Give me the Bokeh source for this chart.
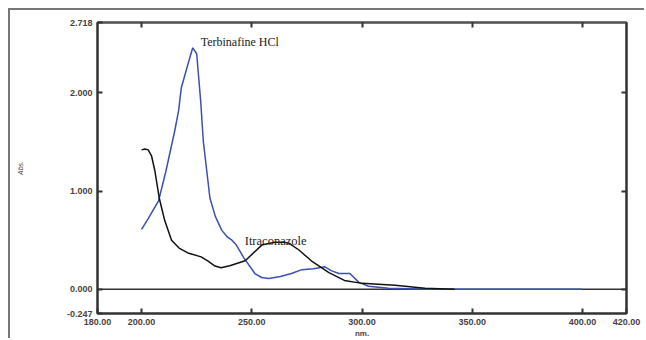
from bokeh.plotting import figure
from bokeh.models import Range1d, FixedTicker, LinearAxis, NumeralTickFormatter, Span, Label
from bokeh.embed import file_html
from bokeh.resources import INLINE

# Terbinafine HCl spectrum (wavelength nm, absorbance)
terb_wl = [200, 203, 207.7, 211, 215, 216.8, 218, 221, 223.2, 225, 226.8, 228, 231, 233.5, 236.4, 239,
           241, 243, 246.4, 251.4, 254.5, 257.7, 263, 268, 272.7, 278, 283, 286, 289.5, 294.5,
           298.6, 303, 312, 330, 360, 400]
terb_abs = [0.61, 0.72, 0.90, 1.20, 1.61, 1.82, 2.05, 2.29, 2.46, 2.40, 1.92, 1.51, 0.93, 0.74, 0.60, 0.53,
            0.50, 0.45, 0.32, 0.16, 0.12, 0.11, 0.13, 0.16, 0.20, 0.21, 0.23, 0.19, 0.16, 0.16,
            0.07, 0.03, 0.01, 0.0, 0.0, 0.0]

# Itraconazole spectrum
itra_wl = [200, 201.5, 203, 204.5, 206, 208, 210.5, 213.6, 217, 221, 227, 230, 233, 236, 240, 247,
           254.5, 260.5, 264.5, 266.8, 271.4, 277, 285, 292, 300, 315, 328.6, 342]
itra_abs = [1.42, 1.43, 1.42, 1.36, 1.21, 0.93, 0.70, 0.50, 0.42, 0.37, 0.33, 0.29, 0.24, 0.22, 0.24, 0.29,
            0.45, 0.48, 0.48, 0.47, 0.40, 0.29, 0.17, 0.09, 0.06, 0.04, 0.01, 0.0]

x_ticks = [180, 200, 250, 300, 350, 400, 420]
y_ticks = [-0.247, 0.0, 1.0, 2.0, 2.718]
top_ticks = [200, 250, 300, 350, 400]
right_ticks = [0.0, 1.0, 2.0]

p = figure(width=636, height=330, output_backend="svg", toolbar_location=None,
           x_range=Range1d(180, 420), y_range=Range1d(-0.247, 2.718),
           min_border_left=87, min_border_right=20, min_border_top=12, min_border_bottom=27)
p.styles = {"border-top": "2px solid #777", "border-left": "2px solid #777",
            "margin-left": "8px", "margin-top": "8px"}
p.xgrid.visible = False
p.ygrid.visible = False
p.background_fill_color = "white"
p.border_fill_color = "white"
p.outline_line_color = "#333"
p.outline_line_width = 2

label_color = "#4a3f3f"
tick_font = "Liberation Sans"

xa = p.xaxis[0]
xa.ticker = FixedTicker(ticks=x_ticks)
xa.formatter = NumeralTickFormatter(format="0.00")
xa.major_tick_in = 5
xa.major_tick_out = 0
xa.minor_tick_line_color = None
xa.axis_line_color = "#333"
xa.axis_line_width = 2
xa.major_tick_line_width = 2
xa.major_tick_line_color = "#333"
xa.major_label_text_font = tick_font
xa.major_label_text_font_size = "9px"
xa.major_label_text_font_style = "bold"
xa.major_label_text_color = label_color
xa.major_label_standoff = 5
xa.axis_label = "nm."
xa.axis_label_text_font = tick_font
xa.axis_label_text_font_size = "8px"
xa.axis_label_text_font_style = "bold"
xa.axis_label_text_color = label_color
xa.axis_label_standoff = 1

ya = p.yaxis[0]
ya.ticker = FixedTicker(ticks=y_ticks)
ya.formatter = NumeralTickFormatter(format="0.000")
ya.major_tick_in = 5
ya.major_tick_out = 0
ya.minor_tick_line_color = None
ya.axis_line_color = "#333"
ya.axis_line_width = 2
ya.major_tick_line_width = 2
ya.major_tick_line_color = "#333"
ya.major_label_text_font = tick_font
ya.major_label_text_font_size = "9px"
ya.major_label_text_font_style = "bold"
ya.major_label_text_color = label_color
ya.major_label_standoff = 5
ya.axis_label = "Abs."
ya.axis_label_text_font = tick_font
ya.axis_label_text_font_size = "7px"
ya.axis_label_text_font_style = "italic"
ya.axis_label_text_color = label_color
ya.axis_label_standoff = 40

top = LinearAxis(ticker=FixedTicker(ticks=top_ticks),
                 major_label_text_color=None, major_label_text_font_size="2px",
                 major_tick_in=5, major_tick_out=0,
                 minor_tick_line_color=None, axis_line_color="#555", axis_line_width=2,
                 major_tick_line_width=2, major_tick_line_color="#333", major_label_standoff=0)
p.add_layout(top, "above")
right = LinearAxis(ticker=FixedTicker(ticks=right_ticks),
                   major_label_text_color=None, major_label_text_font_size="2px",
                   major_tick_in=5, major_tick_out=0,
                   minor_tick_line_color=None, axis_line_color="#333", axis_line_width=2,
                   major_tick_line_width=2, major_tick_line_color="#333", major_label_standoff=0)
p.add_layout(right, "right")

zero = Span(location=0, dimension="width", line_color="#333", line_width=1.5, level="underlay")
p.add_layout(zero)

p.line(terb_wl, terb_abs, line_color="#3a50b4", line_width=1.5)
p.line(itra_wl, itra_abs, line_color="#111111", line_width=1.5)

p.add_layout(Label(x=226.8, y=2.52, text="Terbinafine HCl", text_font="Liberation Serif",
                   text_font_size="12px", text_baseline="middle", text_color="#222"))
p.add_layout(Label(x=246.8, y=0.49, text="Itraconazole", text_font="Liberation Serif",
                   text_font_size="12.5px", text_baseline="middle", text_color="#222"))

open("out.html", "w").write(file_html(p, INLINE))
